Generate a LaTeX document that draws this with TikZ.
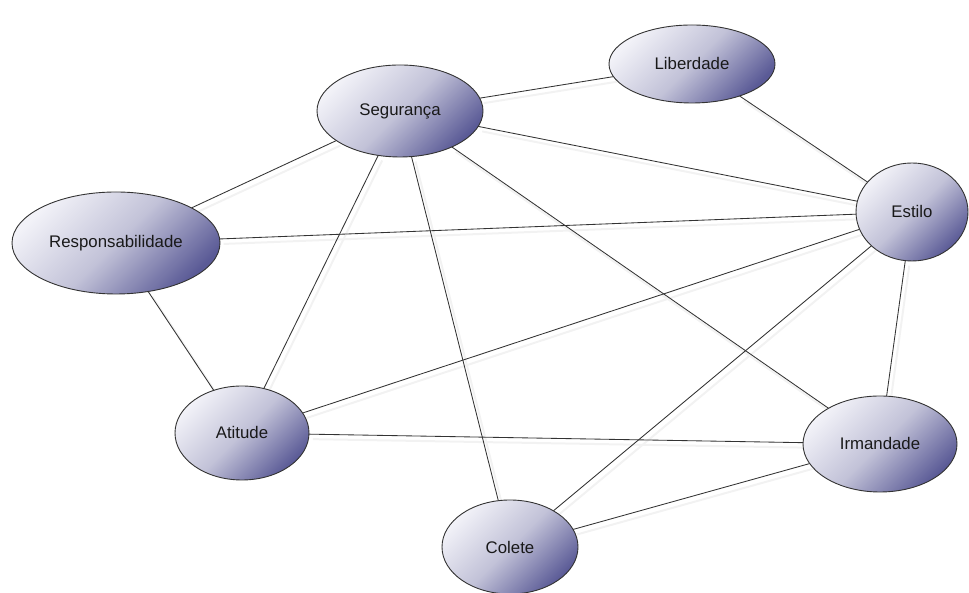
\documentclass[tikz,border=0pt]{standalone}
\usepackage{fontspec}
\setmainfont{Liberation Sans}
\usetikzlibrary{shapes.geometric,shadows,backgrounds}
\definecolor{nodelight}{HTML}{F2F2F8}
\definecolor{nodemid}{HTML}{C2C2D8}
\definecolor{nodedark}{HTML}{5A5A96}
\definecolor{edgecol}{HTML}{333333}
\definecolor{shadowcol}{HTML}{F2F2F2}
\tikzset{
  bubble/.style={ellipse, draw=black!80, line width=0.9bp, inner sep=0pt, outer sep=0pt,
    top color=nodelight, bottom color=nodedark, middle color=nodemid, shading angle=45,
    font=\fontsize{16.8bp}{20bp}\selectfont, text=black!90},
  link/.style={draw=edgecol, line width=0.85bp},
  linkshadow/.style={draw=shadowcol, line width=2bp, transform canvas={shift={(4bp,-5bp)}}}
}
\begin{document}
\begin{tikzpicture}[x=1bp,y=1bp]
\useasboundingbox (0,0) rectangle (969,593);
\node[bubble, minimum width=166bp, minimum height=92bp] (seg) at (400,482) {Segurança};
\node[bubble, minimum width=166bp, minimum height=78bp] (lib) at (692,529) {Liberdade};
\node[bubble, minimum width=112bp, minimum height=98bp] (est) at (912,381) {Estilo};
\node[bubble, minimum width=208bp, minimum height=102bp] (res) at (116,350) {Responsabilidade};
\node[bubble, minimum width=134bp, minimum height=94bp] (ati) at (242,160) {Atitude};
\node[bubble, minimum width=154bp, minimum height=96bp] (irm) at (880,149) {Irmandade};
\node[bubble, minimum width=136bp, minimum height=94bp] (col) at (510,46) {Colete};
\begin{scope}[on background layer]
\foreach \a/\b in {seg/lib,seg/est,seg/res,seg/ati,seg/col,seg/irm,lib/est,res/est,res/ati,ati/est,ati/irm,est/irm,est/col,col/irm}{
  \path[linkshadow] (\a) -- (\b);
}
\foreach \a/\b in {seg/lib,seg/est,seg/res,seg/ati,seg/col,seg/irm,lib/est,res/est,res/ati,ati/est,ati/irm,est/irm,est/col,col/irm}{
  \path[link] (\a) -- (\b);
}
\end{scope}
\end{tikzpicture}
\end{document}
